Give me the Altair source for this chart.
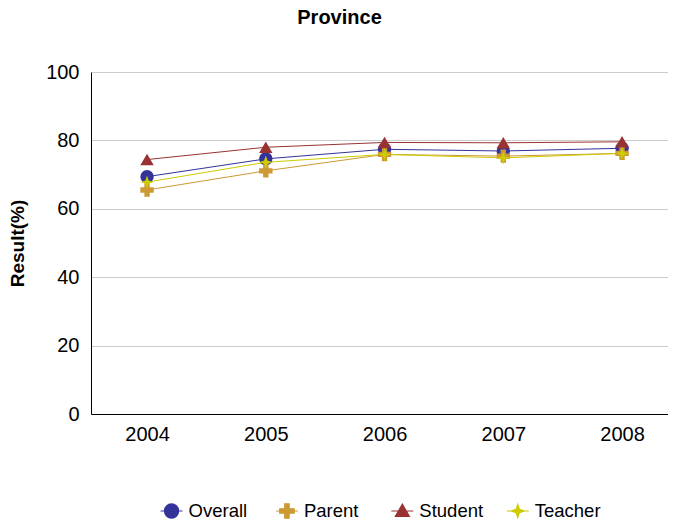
import altair as alt
import pandas as pd

years = [2004, 2005, 2006, 2007, 2008]
series = ["Overall", "Parent", "Student", "Teacher"]
overall = [69.4, 74.6, 77.4, 76.9, 77.7]
parent = [65.5, 71.1, 75.9, 75.4, 76.2]
student = [74.4, 78.0, 79.4, 79.3, 79.6]
teacher = [67.8, 73.6, 75.9, 74.9, 76.2]
colors = ["#333399", "#CC9933", "#993333", "#CCCC00"]
y_ticks = [0, 20, 40, 60, 80, 100]

STAR = "M0,-1L0.25,-0.25L1,0L0.25,0.25L0,1L-0.25,0.25L-1,0L-0.25,-0.25Z"
point_shapes = ["circle", "cross", "triangle-up", STAR]
legend_shapes = [
    "M-1,0H1M0.64,0A0.64,0.64,0,1,1,-0.64,0A0.64,0.64,0,1,1,0.64,0Z",
    "M-1,0H1M-0.2,-0.66H0.2V-0.2H0.66V0.2H0.2V0.66H-0.2V0.2H-0.66V-0.2H-0.2Z",
    "M-1,0H1M0,-0.62L0.64,0.5H-0.64Z",
    "M-1,0H1M0,-0.6L0.15,-0.15L0.6,0L0.15,0.15L0,0.6L-0.15,0.15L-0.6,0L-0.15,-0.15Z",
]

rows = []
for name, vals in zip(series, [overall, parent, student, teacher]):
    for yr, v in zip(years, vals):
        rows.append({"year": yr, "series": name, "value": v})
df = pd.DataFrame(rows)
legend_df = pd.DataFrame({"series": series})

x = alt.X(
    "year:Q",
    scale=alt.Scale(domain=[2003.528, 2008.387], nice=False, zero=False),
    axis=alt.Axis(title=None, values=years, format="d", ticks=False, grid=False,
                  labelFontSize=20, labelPadding=10, labelFlush=False,
                  domainColor="#000000", labelColor="#000000"),
)
y = alt.Y(
    "value:Q",
    scale=alt.Scale(domain=[0, 100], nice=False),
    axis=alt.Axis(title="Result(%)", values=y_ticks, ticks=False, grid=True,
                  gridColor="#cccccc", labelFontSize=20, labelPadding=12,
                  titleFontSize=19, titleFontWeight="bold", titlePadding=18,
                  domainColor="#000000", labelColor="#000000", titleColor="#000000"),
)
color = alt.Color("series:N", scale=alt.Scale(domain=series, range=colors), legend=None)

lines = alt.Chart(df).mark_line(strokeWidth=1).encode(
    x=x, y=y,
    stroke=alt.Stroke("series:N", scale=alt.Scale(domain=series, range=colors), legend=None),
)

point_layers = []
for name, shp in zip(series, point_shapes):
    point_layers.append(
        alt.Chart(df).transform_filter(alt.datum.series == name)
        .mark_point(filled=True, size=180, opacity=1, shape=shp)
        .encode(x=x, y=y, color=color)
    )

main = alt.layer(lines, *point_layers)

# legend row drawn from the series list
legend_row = -0.2836
lx = alt.X("series:N", scale=alt.Scale(type="point", domain=series, padding=1.09, align=0.349),
           axis=None)
ly = alt.YDatum(legend_row, type="quantitative", scale=alt.Scale(domain=[0, 1], nice=False, zero=False),
                axis=None)

legend_symbols = alt.Chart(legend_df).mark_point(filled=True, size=484, strokeWidth=1.2, opacity=1).encode(
    x=lx, y=ly,
    shape=alt.Shape("series:N", scale=alt.Scale(domain=series, range=legend_shapes), legend=None),
    fill=alt.Fill("series:N", scale=alt.Scale(domain=series, range=colors), legend=None),
    stroke=alt.Stroke("series:N", scale=alt.Scale(domain=series, range=colors), legend=None),
)
legend_labels = alt.Chart(legend_df).mark_text(
    align="left", baseline="middle", dx=17, fontSize=18.5, color="#000000"
).encode(x=lx, y=ly, text="series:N")

legend = alt.layer(legend_symbols, legend_labels)

chart = (
    alt.layer(main, legend)
    .resolve_scale(x="independent", y="independent")
    .properties(
        width=577, height=342,
        title=alt.TitleParams("Province", fontSize=20, fontWeight="bold", anchor="middle",
                              dx=-40, dy=-30, color="#000000"),
        padding=0,
    )
    .configure(font="Liberation Sans")
    .configure_view(stroke=None)
)

chart.save("out.html", embed_options={"renderer": "svg", "actions": False})
